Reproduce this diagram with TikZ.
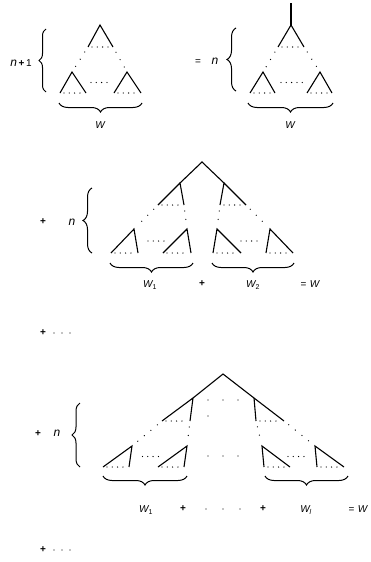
\documentclass[tikz,border=0pt]{standalone}
\usepackage{fontspec}
\setmainfont{Liberation Sans}
\usetikzlibrary{decorations.pathreplacing,calc}
\newcommand\tri[4]{%
  \coordinate (#1a) at (#2); \coordinate (#1l) at (#3); \coordinate (#1r) at (#4);
  \draw[edge] (#1l) -- (#1a) -- (#1r);
  \draw[dots] (#1l) -- (#1r);}
\begin{document}
\begin{tikzpicture}[x=1pt,y=-1pt,
  edge/.style={line width=1.1pt, line join=miter},
  dots/.style={line width=1.3pt, line cap=round, dash pattern=on 0pt off 5.3pt, shorten <=4pt, shorten >=3pt},
  sdots/.style={line width=1.3pt, line cap=round, dash pattern=on 0pt off 8.5pt, shorten <=6pt, shorten >=5pt},
  mdots/.style={line width=1.3pt, line cap=round, dash pattern=on 0pt off 5.3pt, shorten <=12pt, shorten >=10pt},
  brc/.style={line width=1pt, decorate, decoration={brace, amplitude=#1}},
  brc/.default=8pt,
  lbl/.style={inner sep=0pt, font=\fontsize{10}{11}\selectfont},
  nlbl/.style={inner sep=0pt, font=\fontsize{12}{13}\selectfont\itshape}]
\useasboundingbox (0,0) rectangle (370,562);

% ---------- panel 1 ----------
\tri{a}{100,25}{88,47}{113,47}
\tri{b}{72,72}{60,93}{86,93}
\tri{c}{127,72}{114,93}{141,93}
\draw[sdots] (al) -- (ba);
\draw[sdots] (ar) -- (ca);
\draw[mdots] ($(ba)!.5!(br)$) -- ($(ca)!.5!(cl)$);
\coordinate (p1t) at (46,29); \coordinate (p1b) at (46,92);
\draw[brc=7pt] (p1b) -- (p1t);
\node[lbl] (p1n) at (21,63) {{\fontsize{12}{13}\selectfont\itshape n}\,\textbf{+}\,1};
\coordinate (p1l) at (59,103); \coordinate (p1r) at (142,103);
\draw[brc=9pt] (p1r) -- (p1l);
\node[lbl] (p1w) at (100,125) {\itshape W};

% ---------- panel 2 ----------
\coordinate (s) at (291,3);
\tri{d}{291,25}{278,47}{304,47}
\draw[edge] (s) -- (da);
\tri{e}{263,72}{250,93}{275,93}
\tri{f}{320,72}{307,93}{332,93}
\draw[sdots] (dl) -- (ea);
\draw[sdots] (dr) -- (fa);
\draw[mdots] ($(ea)!.5!(er)$) -- ($(fa)!.5!(fl)$);
\coordinate (p2t) at (236,28); \coordinate (p2b) at (236,91);
\draw[brc=9pt] (p2b) -- (p2t);
\node[lbl] (p2eq) at (198,62) {=};
\node[nlbl] (p2n) at (215,61) {n};
\coordinate (p2l) at (248,103); \coordinate (p2r) at (333,103);
\draw[brc=9pt] (p2r) -- (p2l);
\node[lbl] (p2w) at (290,125) {\itshape W};

% ---------- panel 3 ----------
\coordinate (P3) at (202,162);
\tri{g}{180,183}{158,205}{184,205}
\tri{h}{224,183}{220,205}{246,205}
\draw[edge] (ga) -- (P3) -- (ha);
\tri{i}{134,229}{111,253}{138,253}
\tri{j}{187,229}{163,253}{191,253}
\tri{k}{217,229}{213,253}{241,253}
\tri{m}{270,229}{266,253}{293,253}
\draw[sdots] (gl) -- (ia);
\draw[sdots] (gr) -- (ja);
\draw[sdots] (hl) -- (ka);
\draw[sdots] (hr) -- (ma);
\draw[mdots] ($(ia)!.5!(ir)$) -- ($(ja)!.5!(jl)$);
\draw[mdots] ($(ka)!.5!(kr)$) -- ($(ma)!.5!(ml)$);
\coordinate (p3t) at (92,188); \coordinate (p3b) at (92,253);
\draw[brc=9pt] (p3b) -- (p3t);
\node[lbl] (p3p) at (43,222) {\textbf{+}};
\node[nlbl] (p3n) at (72,222) {n};
\coordinate (p3al) at (110,263); \coordinate (p3ar) at (193,263);
\draw[brc=9pt] (p3ar) -- (p3al);
\coordinate (p3bl) at (212,263); \coordinate (p3br) at (294,263);
\draw[brc=9pt] (p3br) -- (p3bl);
\node[lbl] (p3w1) at (150,285) {\itshape W\textsubscript{\upshape 1}};
\node[lbl] (p3pl) at (202,284) {\textbf{+}};
\node[lbl] (p3w2) at (253,285) {\itshape W\textsubscript{\upshape 2}};
\node[lbl] (p3eq) at (310,284) {=\,\,\itshape W};

\node[lbl] (r1p) at (43,333) {\textbf{+}};
\foreach \x in {54,62,70} \fill (\x,333) circle (0.65pt);

% ---------- panel 4 ----------
\coordinate (P4) at (223,374);
\tri{n}{193,398}{162,421}{190,421}
\tri{o}{254,398}{256,421}{284,421}
\draw[edge] (na) -- (P4) -- (oa);
\tri{q}{132,446}{103,467}{129,467}
\tri{r}{187,446}{158,467}{184,467}
\tri{t}{262,446}{264,467}{290,467}
\tri{u}{315,446}{317,467}{344,467}
\draw[sdots] (nl) -- (qa);
\draw[sdots] (nr) -- (ra);
\draw[sdots] (ol) -- (ta);
\draw[sdots] (or) -- (ua);
\draw[mdots] ($(qa)!.5!(qr)$) -- ($(ra)!.5!(rl)$);
\draw[mdots] ($(ta)!.5!(tr)$) -- ($(ua)!.5!(ul)$);
\foreach \x/\y in {208/400,223/400,238/400,208/416,208/456,223/456,238/456}
  \fill (\x,\y) circle (0.65pt);
\coordinate (p4t) at (80,403); \coordinate (p4b) at (80,467);
\draw[brc=8pt] (p4b) -- (p4t);
\node[lbl] (p4p) at (38,434) {\textbf{+}};
\node[nlbl] (p4n) at (57,433) {n};
\coordinate (p4al) at (103,476); \coordinate (p4ar) at (187,476);
\draw[brc=9pt] (p4ar) -- (p4al);
\coordinate (p4bl) at (265,476); \coordinate (p4br) at (348,476);
\draw[brc=9pt] (p4br) -- (p4bl);
\node[lbl] (p4w1) at (146,510) {\itshape W\textsubscript{\upshape 1}};
\node[lbl] (p4p1) at (183,509) {\textbf{+}};
\foreach \x in {206,223,240} \fill (\x,509) circle (0.65pt);
\node[lbl] (p4p2) at (263,509) {\textbf{+}};
\node[lbl] (p4wl) at (306,510) {\itshape W\textsubscript{l}};
\node[lbl] (p4eq) at (358,509) {=\,\,\itshape W};

\node[lbl] (r2p) at (43,550) {\textbf{+}};
\foreach \x in {54,62,70} \fill (\x,550) circle (0.65pt);
\end{tikzpicture}
\end{document}
